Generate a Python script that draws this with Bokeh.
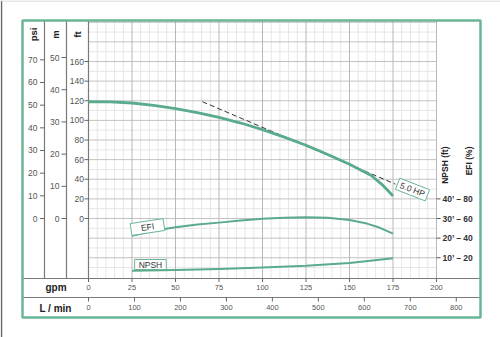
import numpy as np
from bokeh.plotting import figure
from bokeh.models import Range1d, Label
from bokeh.embed import file_html
from bokeh.resources import INLINE
from bokeh.core.properties import value

# ---------------- data ----------------
head_gpm = [0, 12.5, 25, 37.5, 50, 62.5, 75, 87.5, 100, 112.5, 125, 137.5, 150, 162.5, 168.75, 175]
head_ft = [119, 118.8, 117.7, 115.2, 112, 107.8, 103, 97.3, 90.6, 82.9, 74.6, 65.2, 55.2, 43.8, 34.6, 23]

efi_gpm = [25, 37.5, 50, 62.5, 75, 87.5, 100, 112.5, 125, 137.5, 150, 160, 167.5, 175]
efi_pct = [42.5, 47.5, 51, 53.8, 55.8, 57.9, 59.7, 60.8, 61.3, 60.8, 58.5, 54.8, 50.5, 44.5]

npsh_gpm = [25, 50, 75, 100, 125, 150, 175]
npsh_ft = [3.4, 3.7, 4.3, 5.0, 5.9, 7.3, 9.8]

hp_gpm = [65.5, 176.4]
hp_ft = [119, 35]

gpm_ticks = [0, 25, 50, 75, 100, 125, 150, 175, 200]
lmin_ticks = [0, 100, 200, 300, 400, 500, 600, 700, 800]
psi_ticks = [0, 10, 20, 30, 40, 50, 60, 70]
m_ticks = [0, 10, 20, 30, 40, 50]
ft_ticks = [0, 20, 40, 60, 80, 100, 120, 140, 160]
npsh_ticks = [10, 20, 30, 40]
efi_ticks = [20, 40, 60, 80]

FT_PER_PSI = 2.31
FT_PER_M = 3.281
LMIN_PER_GPM = 3.785

# ---------------- layout helpers (pixel -> data) ----------------
PX_PER_GPM = 1.74
PX_PER_FT = 0.98125
X0PX, Y0PX = 88, 218


def gx(px):
    return (px - X0PX) / PX_PER_GPM


def fy(py):
    return (Y0PX - py) / PX_PER_FT


GREEN = "#6ab596"
CURVE = "#5aab8c"
FONTNAME = "Liberation Sans"
FONT = value(FONTNAME)

p = figure(width=500, height=337, x_range=Range1d(gx(0), gx(500)),
           y_range=Range1d(fy(337), fy(0)), min_border=0,
           toolbar_location=None, output_backend="svg",
           x_axis_location=None, y_axis_location=None,
           outline_line_color=None, background_fill_color="white",
           border_fill_color="white")
p.xgrid.visible = False
p.ygrid.visible = False

TOP = fy(20)
BOT = fy(278)
ROW2 = fy(297)

# page edge lines
p.segment(x0=[gx(1)], y0=[fy(0)], x1=[gx(1)], y1=[fy(337)], line_color="#666", line_width=1.5)
p.segment(x0=[gx(0)], y0=[fy(0.5)], x1=[gx(500)], y1=[fy(0.5)], line_color="#cfcfcf", line_width=1)

# grid
minor_v = [v for v in np.arange(5, 200, 5) if v % 25 != 0]
p.segment(x0=minor_v, y0=BOT, x1=minor_v, y1=TOP, line_color="#e6e6e6", line_width=1)
minor_h = [v for v in np.arange(-50, 201, 10) if v % 20 != 0]
p.segment(x0=0, y0=minor_h, x1=200, y1=minor_h, line_color="#e6e6e6", line_width=1)
major_h = list(np.arange(-40, 201, 20))
p.segment(x0=0, y0=major_h, x1=200, y1=major_h, line_color="#c2c2c2", line_width=1)
major_v = gpm_ticks[1:]
p.segment(x0=major_v, y0=BOT, x1=major_v, y1=TOP, line_color="#b8b8b8", line_width=1)

# column dividers and row lines
cols = [gx(44), gx(66), 0]
p.segment(x0=cols, y0=BOT, x1=cols, y1=TOP, line_color="#7a7a7a", line_width=1.2)
p.segment(x0=gx(22), y0=[BOT, ROW2], x1=gx(480), y1=[BOT, ROW2], line_color="#7a7a7a", line_width=1.2)

# left axes ticks + labels
def left_axis(vals_ft, labels, label_px, tick_px0, tick_px1):
    p.segment(x0=gx(tick_px0), y0=vals_ft, x1=gx(tick_px1), y1=vals_ft, line_color="#666", line_width=1)
    p.text(x=[gx(label_px)] * len(vals_ft), y=vals_ft, text=labels, text_font=FONT,
           text_font_size="8.5px", text_align="right", text_baseline="middle", text_color="#555")

left_axis([v * FT_PER_PSI for v in psi_ticks], [str(v) for v in psi_ticks], 37, 39.5, 44)
left_axis([v * FT_PER_M for v in m_ticks], [str(v) for v in m_ticks], 59, 61, 66)
left_axis(ft_ticks, [str(v) for v in ft_ticks], 83.5, 84, 88)

for txt, px in (("psi", 33), ("m", 55), ("ft", 76.5)):
    p.add_layout(Label(x=gx(px), y=fy(34), text=txt, angle=np.pi / 2, text_font=FONTNAME,
                       text_font_size="9.5px", text_font_style="bold", text_align="center",
                       text_baseline="middle", text_color="#222"))

# right axes
npsh_y = [2 * v - 60 for v in npsh_ticks]
p.segment(x0=200, y0=npsh_y, x1=gx(440), y1=npsh_y, line_color="#555", line_width=1)
p.text(x=[gx(442)] * len(npsh_y), y=npsh_y,
       text=[f"{a}\u2019 \u2013 {b}" for a, b in zip(npsh_ticks, efi_ticks)],
       text_font=FONT, text_font_size="8.5px", text_font_style="bold",
       text_align="left", text_baseline="middle", text_color="#333")
for txt, px in (("NPSH (ft)", 444), ("EFI (%)", 468)):
    p.add_layout(Label(x=gx(px), y=fy(146), text=txt, angle=np.pi / 2, text_font=FONTNAME,
                       text_font_size="8.5px", text_font_style="bold", text_align="right",
                       text_baseline="middle", text_color="#222"))

# bottom axes
p.segment(x0=gpm_ticks, y0=BOT, x1=gpm_ticks, y1=fy(281.5), line_color="#666", line_width=1)
p.text(x=gpm_ticks, y=fy(286.5), text=[str(v) for v in gpm_ticks], text_font=FONT,
       text_font_size="7.5px", text_align="center", text_baseline="middle", text_color="#555")
lmin_x = [v / LMIN_PER_GPM for v in lmin_ticks]
p.segment(x0=lmin_x, y0=ROW2, x1=lmin_x, y1=fy(301), line_color="#666", line_width=1)
p.text(x=lmin_x, y=fy(306.5), text=[str(v) for v in lmin_ticks], text_font=FONT,
       text_font_size="7.5px", text_align="center", text_baseline="middle", text_color="#555")
p.add_layout(Label(x=gx(55.5), y=fy(287), text="gpm", text_font=FONTNAME, text_font_size="10px",
                   text_font_style="bold", text_align="center", text_baseline="middle",
                   text_color="#222"))
p.add_layout(Label(x=gx(55), y=fy(307.5), text="L / min", text_font=FONTNAME, text_font_size="10px",
                   text_font_style="bold", text_align="center", text_baseline="middle",
                   text_color="#222"))

# curves
p.line(hp_gpm, hp_ft, line_color="#333", line_width=1, line_dash="5 3")
p.line(head_gpm, head_ft, line_color=CURVE, line_width=2.8, line_join="round")
p.line(efi_gpm, [v - 60 for v in efi_pct], line_color=CURVE, line_width=2, line_join="round")
p.line(npsh_gpm, [2 * v - 60 for v in npsh_ft], line_color=CURVE, line_width=2, line_join="round")

# boxed labels
def boxed(text, x, y, angle, pad):
    p.add_layout(Label(x=x, y=y, text=text, angle=angle, text_font=FONTNAME, text_font_size="8.5px",
                       text_align="center", text_baseline="middle", text_color="#333",
                       background_fill_color="white", border_line_color=GREEN,
                       border_line_width=1, padding=pad))

boxed("5.0 HP", 186.2, 29.5, -0.37, dict(left=3, right=3, top=1, bottom=1))
boxed("EFI", 33.9, -8.7, 0.15, dict(left=10, right=10, top=1, bottom=1))
boxed("NPSH", 35.6, -46.9, 0.0, dict(left=4, right=4, top=0, bottom=0))

# outer green frame
p.quad(left=[gx(22)], right=[gx(480)], top=[fy(20)], bottom=[fy(317)], fill_color=None,
       line_color=GREEN, line_width=2.5)

open("out.html", "w").write(file_html(p, INLINE))
